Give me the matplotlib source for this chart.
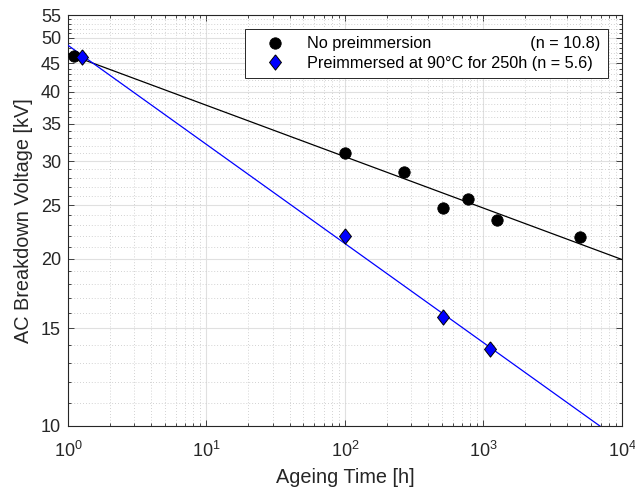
import numpy as np
import matplotlib
matplotlib.use("Agg")
import matplotlib.pyplot as plt
from matplotlib.ticker import FixedLocator, NullFormatter, LogLocator, FixedFormatter

# ---- data ----
t_nopre = [1.1, 100, 267, 508, 769, 1245, 5000]
v_nopre = [46.4, 31.0, 28.7, 24.7, 25.6, 23.5, 21.9]
t_pre = [1.26, 100, 508, 1109]
v_pre = [46.2, 22.0, 15.7, 13.75]

# fitted inverse power law V = V0 * t^(-1/n)
V0_nopre, n_nopre = 46.8, 10.8
V0_pre, n_pre = 48.5, 5.6

label_nopre = "No preimmersion" + " " * 22 + "(n = 10.8)"
label_pre = "Preimmersed at 90°C for 250h (n = 5.6)"

yticks = [10, 15, 20, 25, 30, 35, 40, 45, 50, 55]
xlim = (1, 1e4)
ylim = (10, 55)

TXT = "#262626"
plt.rcParams['font.family'] = ['Liberation Sans', 'DejaVu Sans']
plt.rcParams['mathtext.fontset'] = 'custom'
plt.rcParams['mathtext.rm'] = 'Liberation Sans'
plt.rcParams['mathtext.it'] = 'Liberation Sans:italic'

fig = plt.figure(figsize=(6.35, 4.88), dpi=100)
ax = fig.add_axes([68/635, 1-426/488, (622-68)/635, (426-15)/488])

tfit = np.logspace(0, 4, 200)
ax.plot(tfit, V0_nopre * tfit ** (-1 / n_nopre), color='black', lw=0.9, zorder=3)
ax.plot(tfit, V0_pre * tfit ** (-1 / n_pre), color=(0, 0, 1), lw=0.9, zorder=3)

diamond = [(0, 1), (0.78, 0), (0, -1), (-0.78, 0), (0, 1)]

ax.plot(t_nopre, v_nopre, linestyle='none', marker='o', ms=8.2, mfc='black',
        mec='black', mew=0.6, label=label_nopre, zorder=4)
ax.plot(t_pre, v_pre, linestyle='none', marker=diamond, ms=11, mfc=(0, 0, 1),
        mec='black', mew=0.7, label=label_pre, zorder=4)

ax.set_xscale('log')
ax.set_yscale('log')
ax.set_xlim(*xlim)
ax.set_ylim(*ylim)

ax.xaxis.set_major_locator(LogLocator(base=10, numticks=10))
ax.xaxis.set_minor_locator(LogLocator(base=10, subs=np.arange(2, 10), numticks=20))
ax.xaxis.set_minor_formatter(NullFormatter())

ax.yaxis.set_major_locator(FixedLocator(yticks))
ax.yaxis.set_major_formatter(FixedFormatter([str(v) for v in yticks]))
ax.yaxis.set_minor_locator(FixedLocator([v for v in range(10, 56) if v not in yticks]))
ax.yaxis.set_minor_formatter(NullFormatter())

ax.grid(True, which='major', color='#e0e0e0', lw=0.8, ls='-')
ax.grid(True, which='minor', color='#c4c4c4', lw=0.6, ls=(0, (1, 2.5)))
ax.set_axisbelow(True)

ax.tick_params(which='both', direction='in', top=True, right=True, colors=TXT,
               labelsize=13, width=0.6)
ax.tick_params(which='major', length=4.5)
ax.tick_params(axis='y', which='major', pad=5)
ax.tick_params(axis='x', which='major', pad=11)
ax.tick_params(which='minor', length=2.5)
for s in ax.spines.values():
    s.set_color(TXT)
    s.set_linewidth(0.8)

ax.set_xlabel("Ageing Time [h]", fontsize=14.3, color=TXT, labelpad=5)
ax.set_ylabel("AC Breakdown Voltage [kV]", fontsize=14.3, color=TXT, labelpad=6)

leg = ax.legend(loc='upper right', numpoints=1, fontsize=11.7, fancybox=False,
                framealpha=1, edgecolor=TXT, borderaxespad=0.86, borderpad=0.45,
                handlelength=2.8, handletextpad=0.6, labelspacing=0.3)
leg.get_frame().set_linewidth(0.7)
for txt in leg.get_texts():
    txt.set_color('black')

fig.savefig("out.png", dpi=100)
